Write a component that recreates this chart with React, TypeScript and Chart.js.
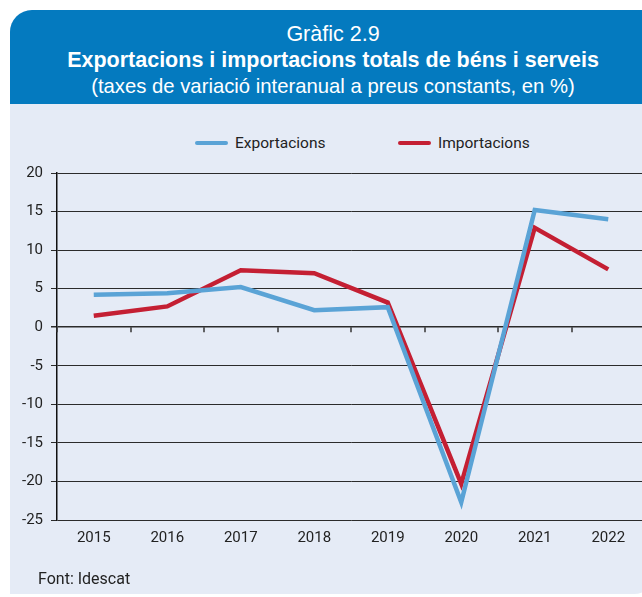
import React, { useEffect, useRef } from "react";
import { Chart, registerables } from "chart.js";

Chart.register(...registerables);

const years = ["2015", "2016", "2017", "2018", "2019", "2020", "2021", "2022"];
const exportacions = [4.2, 4.4, 5.2, 2.2, 2.6, -22.7, 15.2, 14.0];
const importacions = [1.5, 2.7, 7.4, 7.0, 3.2, -20.3, 12.9, 7.5];
const yTicks = [20, 15, 10, 5, 0, -5, -10, -15, -20, -25];

const BLUE = "#5AA3D6";
const RED = "#C41F33";
const FONT = "Roboto, 'Liberation Sans', Arial, sans-serif";
const HFONT = "'Liberation Sans', Arial, sans-serif";

const zeroTicksPlugin = {
  id: "zeroTicks",
  afterDatasetsDraw(chart: any) {
    const { ctx, chartArea, scales } = chart;
    const y0 = scales.y.getPixelForValue(0);
    const n = years.length;
    const step = (chartArea.right - chartArea.left) / n;
    ctx.save();
    ctx.strokeStyle = "#333";
    ctx.lineWidth = 1.5;
    for (let i = 0; i <= n; i++) {
      const x = Math.round(chartArea.left + i * step);
      ctx.beginPath();
      ctx.moveTo(x, y0);
      ctx.lineTo(x, y0 + 5);
      ctx.stroke();
    }
    ctx.restore();
  },
};

export default function App() {
  const ref = useRef<HTMLCanvasElement | null>(null);

  useEffect(() => {
    document.body.style.margin = "0";
    document.body.style.overflow = "hidden";
    if (!ref.current) return;
    const chart = new Chart(ref.current, {
      type: "line",
      data: {
        labels: years,
        datasets: [
          {
            label: "Exportacions",
            data: exportacions,
            borderColor: BLUE,
            backgroundColor: BLUE,
            borderWidth: 4.5,
            pointRadius: 0,
            tension: 0,
          },
          {
            label: "Importacions",
            data: importacions,
            borderColor: RED,
            backgroundColor: RED,
            borderWidth: 4.5,
            pointRadius: 0,
            tension: 0,
          },
        ],
      },
      options: {
        animation: false,
        responsive: false,
        maintainAspectRatio: false,
        layout: { padding: { top: 69, bottom: 41, left: 0, right: 0 } },
        plugins: { legend: { display: false }, tooltip: { enabled: false } },
        scales: {
          x: {
            offset: true,
            grid: { display: false, drawTicks: false },
            border: { display: false },
            ticks: {
              padding: 9,
              color: "#222",
              font: { family: FONT, size: 15 },
            },
          },
          y: {
            min: -25,
            max: 20,
            afterBuildTicks(scale: any) {
              scale.ticks = yTicks.map((v) => ({ value: v }));
            },
            afterFit(scale: any) {
              scale.width = 57;
            },
            grid: {
              color: "#2b2b2b",
              lineWidth: (c: any) => (c.tick && c.tick.value === 0 ? 1.5 : 1),
              tickLength: 6,
            },
            border: { display: true, color: "#111", width: 1.5 },
            ticks: {
              padding: 8,
              color: "#222",
              font: { family: FONT, size: 15 },
            },
          },
        },
      },
      plugins: [zeroTicksPlugin],
    });
    return () => chart.destroy();
  }, []);

  const legendItems = [
    { label: "Exportacions", color: BLUE, x: 195 },
    { label: "Importacions", color: RED, x: 398 },
  ];

  return (
    <div style={{ position: "relative", width: 642, height: 597, overflow: "hidden", fontFamily: FONT }}>
      <div
        style={{
          position: "absolute",
          left: 10,
          top: 10,
          width: 646,
          height: 584,
          background: "#E5EBF6",
          borderTopLeftRadius: 22,
          borderBottomRightRadius: 22,
          overflow: "hidden",
        }}
      >
        <div
          style={{
            height: 94,
            background: "#047ABF",
            color: "#fff",
            textAlign: "center",
            boxSizing: "border-box",
            paddingTop: 11,
            fontFamily: HFONT,
          }}
        >
          <div style={{ fontSize: 21.5, fontWeight: 400, lineHeight: "26px" }}>Gràfic 2.9</div>
          <div style={{ fontSize: 21.5, fontWeight: 700, lineHeight: "26px" }}>
            Exportacions i importacions totals de béns i serveis
          </div>
          <div style={{ fontSize: 20.3, fontWeight: 400, lineHeight: "27px" }}>
            (taxes de variació interanual a preus constants, en %)
          </div>
        </div>
      </div>
      {legendItems.map((it) => (
        <div
          key={it.label}
          style={{ position: "absolute", left: it.x, top: 132, height: 22, display: "flex", alignItems: "center" }}
        >
          <div style={{ width: 33, height: 4.5, borderRadius: 2, background: it.color, marginRight: 7 }} />
          <span style={{ fontSize: 15.5, color: "#222", fontWeight: 400 }}>{it.label}</span>
        </div>
      ))}
      <canvas
        ref={ref}
        width={645}
        height={493}
        style={{ position: "absolute", left: 0, top: 104, width: 645, height: 493 }}
      />
      <div style={{ position: "absolute", left: 38, top: 569, fontSize: 16, color: "#222" }}>Font: Idescat</div>
    </div>
  );
}
